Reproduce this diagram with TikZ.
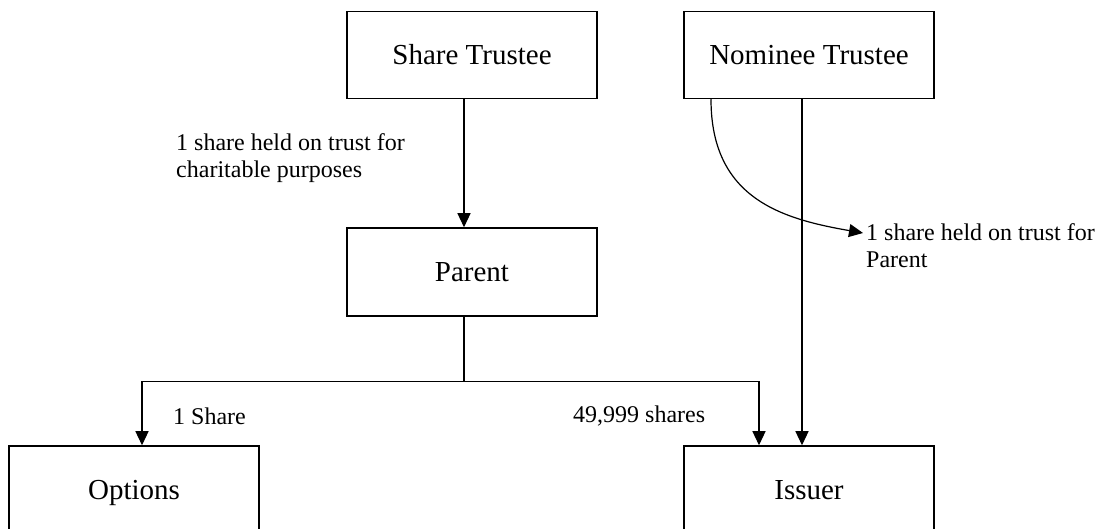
\documentclass[tikz,border=0pt]{standalone}
\usepackage{fontspec}
\setmainfont{Liberation Serif}
\usetikzlibrary{arrows.meta}
\tikzset{
  entity/.style={draw, line width=1.5pt, minimum width=250pt, minimum height=87pt, inner sep=0pt,
    text height=19.5pt, text depth=0pt, font=\fontsize{29}{34}\selectfont},
  lbl/.style={inner sep=0pt, anchor=west, align=left, font=\fontsize{24}{27}\selectfont},
  conn/.style={line width=1.2pt},
  arr/.style={line width=1.2pt, -{Triangle[length=14pt,width=13pt]}},
}
\begin{document}
\begin{tikzpicture}[x=1pt,y=-1pt]
\useasboundingbox (0,0) rectangle (1120,529);
\clip (0,0) rectangle (1120,529);
\node[entity] (st) at (472,55) {Share Trustee};
\node[entity] (nt) at (809,55) {Nominee Trustee};
\node[entity, minimum height=88pt] (par) at (472,272) {Parent};
\node[entity, minimum height=88pt] (opt) at (134,490) {Options};
\node[entity, minimum height=88pt] (iss) at (809,490) {Issuer};
\node[lbl] (l1) at (176,158) {1 share held on trust for\\charitable purposes};
\node[lbl] (l2) at (866,246) {1 share held on trust for\\Parent};
\node[lbl] (l3) at (173,416) {1 Share};
\node[lbl] (l4) at (573,416) {49,999 shares};
\coordinate (ntip) at (863,233);
\draw[arr] ([xshift=-8pt]st.south) -- ([xshift=-8pt]par.north);
\draw[conn] ([xshift=-8pt]par.south) -- ++(0,65) coordinate (j);
\draw[arr] (j) -| ([xshift=8pt]opt.north);
\draw[arr] (j) -| ([xshift=-50pt]iss.north);
\draw[arr] ([xshift=-7pt]nt.south) -- ([xshift=-7pt]iss.north);
\draw[arr] ([xshift=-98pt]nt.south) .. controls +(0,100) and +(-80,-14) .. (ntip);
\end{tikzpicture}
\end{document}
